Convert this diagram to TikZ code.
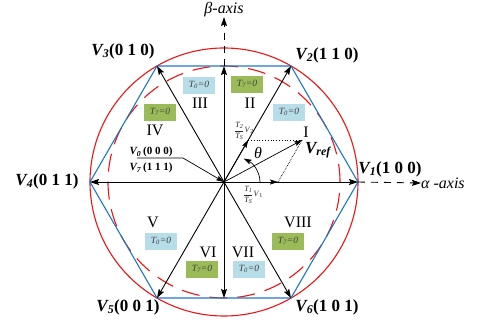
\documentclass[tikz,border=0pt]{standalone}
\usepackage{amsmath}
\usepackage{fontspec}
\setmainfont{Liberation Serif}
\usetikzlibrary{arrows.meta,calc}
\definecolor{hexblue}{RGB}{30,120,200}
\definecolor{boxblue}{RGB}{183,221,232}
\definecolor{boxgreen}{RGB}{155,187,89}
\definecolor{redc}{RGB}{240,20,20}
\begin{document}
\begin{tikzpicture}[x=1pt,y=-1pt,
  vec/.style={-{Stealth[length=9pt,width=6pt,inset=1.5pt]}, line width=0.9pt},
  thinvec/.style={-{Stealth[length=8pt,width=5pt,inset=1.5pt]}, line width=0.7pt},
  axisline/.style={-{Stealth[length=9pt,width=6pt,inset=1.5pt]}, line width=0.9pt, dash pattern=on 7pt off 6pt},
  vlab/.style={font=\fontsize{17}{20}\selectfont\bfseries, inner sep=0pt},
  roman/.style={font=\fontsize{16}{18}\selectfont, inner sep=0pt},
  tbox/.style={minimum width=32pt, minimum height=17pt, inner sep=0pt, text=black!75, font=\fontsize{9.5}{11}\selectfont\itshape},
  bluebox/.style={tbox, fill=boxblue},
  greenbox/.style={tbox, fill=boxgreen},
  frac/.style={font=\fontsize{8}{9}\selectfont, inner sep=0pt, text=black!85}
]
\useasboundingbox (0,0) rectangle (480,324);
\coordinate (O) at (224,182);
\coordinate (v1) at (358,182);
\coordinate (v2) at (291,66);
\coordinate (v3) at (157,66);
\coordinate (v4) at (90,182);
\coordinate (v5) at (157,298);
\coordinate (v6) at (291,298);
\coordinate (top) at (224,66);
\coordinate (bot) at (224,298);

% circles
\draw[redc, line width=1.1pt] (O) circle (134pt);
\draw[redc, line width=1.1pt, dash pattern=on 18pt off 10pt] (O) circle (116pt);
% hexagon
\draw[hexblue, line width=1.1pt] (v1) -- (v2) -- (v3) -- (v4) -- (v5) -- (v6) -- cycle;

% colored boxes
\node[bluebox]  (b3) at (199,85)  {T\textsubscript{0}=0};
\node[greenbox] (b2) at (247,84)  {T\textsubscript{7}=0};
\node[bluebox]  (b1) at (289,112) {T\textsubscript{0}=0};
\node[greenbox] (b4) at (160,112) {T\textsubscript{7}=0};
\node[bluebox]  (b5) at (161,241) {T\textsubscript{0}=0};
\node[greenbox] (b6) at (202,269) {T\textsubscript{7}=0};
\node[bluebox]  (b7) at (249,269) {T\textsubscript{0}=0};
\node[greenbox] (b8) at (288,241) {T\textsubscript{7}=0};

% sector numerals
\node[roman] (s1) at (306,132) {I};
\node[roman] (s2) at (250,103) {II};
\node[roman] (s3) at (200,103) {III};
\node[roman] (s4) at (155,130) {IV};
\node[roman] (s5) at (153,222) {V};
\node[roman] (s6) at (208,252) {VI};
\node[roman] (s7) at (243,252) {VII};
\node[roman] (s8) at (298,222) {VIII};

% vectors
\draw[vec] (O) -- (v1);
\draw[vec] (O) -- (v2);
\draw[vec] (O) -- (v3);
\draw[vec] (O) -- (v4);
\draw[vec] (O) -- (v5);
\draw[vec] (O) -- (v6);
\draw[vec] (O) -- (top);
\draw[vec] (O) -- (bot);

% axes
\node[font=\fontsize{16}{18}\selectfont\itshape, inner sep=0pt, anchor=west] (alab) at (421,183) {α -axis};
\node[font=\fontsize{16}{18}\selectfont\itshape, inner sep=0pt, anchor=south] (blab) at (224,17) {β-axis};
\draw[axisline] (v1) -- (alab.west);
\draw[axisline] (top) -- (blab.south);

% vertex labels
\node[vlab] (l1) at (390,169) {\textit{V\textsubscript{1}}(1 0 0)};
\node[vlab] (l2) at (327,55)  {\textit{V\textsubscript{2}}(1 1 0)};
\node[vlab] (l3) at (123,51)  {\textit{V\textsubscript{3}}(0 1 0)};
\node[vlab] (l4) at (47,181)  {\textit{V\textsubscript{4}}(0 1 1)};
\node[vlab] (l5) at (128,307) {\textit{V\textsubscript{5}}(0 0 1)};
\node[vlab] (l6) at (327,307) {\textit{V\textsubscript{6}}(1 0 1)};

% reference vector decomposition
\coordinate (t1) at (278,182);
\coordinate (t2) at (248.2,140);
\coordinate (vr) at (302.2,140);
\draw[thinvec] (O) -- (t1);
\draw[thinvec] (O) -- (t2);
\draw[thinvec] (O) -- (vr);
\draw[line width=0.8pt, dotted] (t2) -- (vr);
\draw[line width=0.7pt, densely dotted] (vr) -- (t1);
\draw[thinvec] ($(O)+(36pt,0pt)$) arc[start angle=0, end angle=57, x radius=36pt, y radius=28pt];
\node[font=\fontsize{16}{18}\selectfont\itshape, inner sep=0pt] (th) at (258,153) {θ};
\node[font=\fontsize{17}{20}\selectfont\bfseries\itshape, inner sep=0pt] (vref) at (318,150) {V\textsubscript{ref}};
\node[frac] (f2) at (244,131) {$\dfrac{\textit{T}_{\textit{2}}}{\textit{T}_{\textit{S}}}$\textit{V}\textsubscript{2}};
\node[frac] (f1) at (253,195) {$\dfrac{\textit{T}_{\textit{1}}}{\textit{T}_{\textit{S}}}$\textit{V}\textsubscript{1}};

% zero vector pointer
\node[font=\fontsize{11}{13}\selectfont\bfseries, inner sep=0pt] (z0) at (151,152) {\textit{V\textsubscript{0}}\,(0 0 0)};
\node[font=\fontsize{11}{13}\selectfont\bfseries, inner sep=0pt] (z7) at (151,168) {\textit{V\textsubscript{7}}\,(1 1 1)};
\coordinate (pl) at (137,158);
\coordinate (pm) at (183,158);
\draw[thinvec] (pl) -- (pm) -- (O);
\end{tikzpicture}
\end{document}
